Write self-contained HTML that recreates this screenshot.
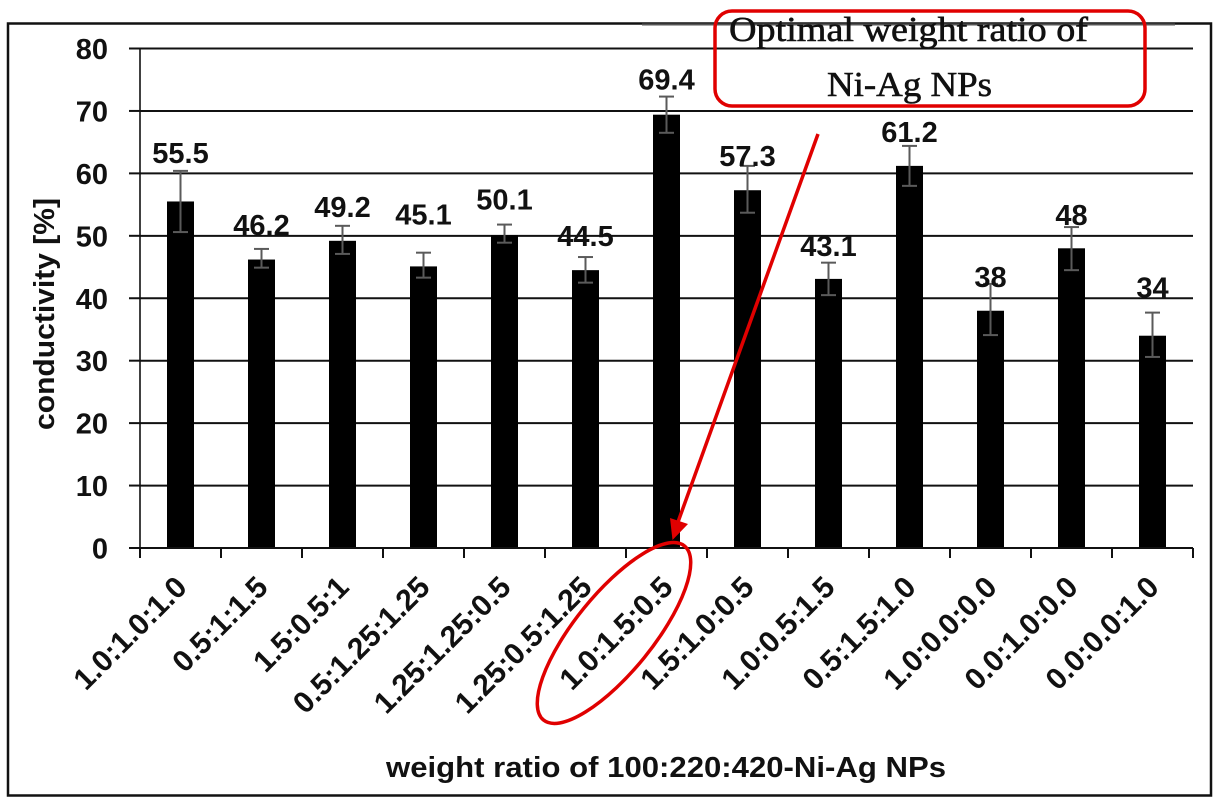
<!DOCTYPE html>
<html lang="en">
<head>
<meta charset="utf-8">
<title>Conductivity vs weight ratio of Ni-Ag NPs</title>
<style>
  html, body { margin: 0; padding: 0; background: #fff; }
  svg { display: block; }
  text { font-family: "Liberation Sans", sans-serif; fill: #111; }
  .serif { font-family: "Liberation Serif", serif; stroke: #111; stroke-width: .6px; }
</style>
</head>
<body>
<svg id="chart" width="1224" height="806" viewBox="0 0 1224 806" xmlns="http://www.w3.org/2000/svg">
  <rect x="0" y="0" width="1224" height="806" fill="#fff"/>
  <rect x="8" y="23.5" width="1203" height="772" fill="none" stroke="#111" stroke-width="2.5"/>
  <g id="grid"></g>
  <line x1="642" y1="24.5" x2="1175" y2="24.5" stroke="#555" stroke-width="2"/>
  <g id="bars"></g>
  <g id="errors"></g>
  <g id="axes"></g>
  <g id="labels"></g>
  <text transform="translate(54,314) rotate(-90)" text-anchor="middle" font-size="29" font-weight="700" textLength="232" lengthAdjust="spacingAndGlyphs">conductivity [%]</text>
  <text x="666" y="777" text-anchor="middle" font-size="29" font-weight="700" textLength="560" lengthAdjust="spacingAndGlyphs">weight ratio of 100:220:420-Ni-Ag NPs</text>
  <rect x="715" y="11" width="430" height="95" rx="17" ry="17" fill="none" stroke="#e00000" stroke-width="3.5"/>
  <text class="serif" x="729" y="41" font-size="35" textLength="359" lengthAdjust="spacingAndGlyphs">Optimal weight ratio of</text>
  <text class="serif" x="827" y="96" font-size="35" textLength="165" lengthAdjust="spacingAndGlyphs">Ni-Ag NPs</text>
  <line x1="818" y1="134" x2="678" y2="522" stroke="#e00000" stroke-width="3.5"/>
  <polygon points="672.5,540 670,518 688,524" fill="#e00000"/>
  <ellipse cx="614" cy="633" rx="112" ry="39" transform="rotate(-51 614 633)" fill="none" stroke="#e00000" stroke-width="3.5"/>
</svg>
<script>
const categories = ["1.0:1.0:1.0","0.5:1:1.5","1.5:0.5:1","0.5:1.25:1.25","1.25:1.25:0.5","1.25:0.5:1.25","1.0:1.5:0.5","1.5:1.0:0.5","1.0:0.5:1.5","0.5:1.5:1.0","1.0:0.0:0.0","0.0:1.0:0.0","0.0:0.0:1.0"];
const conductivity = [55.5,46.2,49.2,45.1,50.1,44.5,69.4,57.3,43.1,61.2,38,48,34];
const errorUp = [4.9,1.7,2.4,2.2,1.7,2.1,2.9,3.9,2.6,3.2,4.3,3.4,3.7];
const errorDown = [4.9,1.3,2.1,1.8,1.2,2.0,2.9,3.6,2.6,3.2,3.9,3.5,3.4];
const labelLift = [1.3,2.2,1.4,4.5,2.4,1.8,1.1,0,1.1,0.6,-0.5,0.3,2.4];
const yTicks = [0,10,20,30,40,50,60,70,80];

const NS = "http://www.w3.org/2000/svg";
const plotLeft = 140, plotRight = 1193, plotBottom = 548, plotTop = 48.5, yMax = 80;
const step = (plotRight - plotLeft) / categories.length;
const xScale = i => plotLeft + step * (i + 0.5);
const yScale = v => plotBottom - (v / yMax) * (plotBottom - plotTop);

function make(tag, attrs, parent, content) {
  const el = document.createElementNS(NS, tag);
  for (const k in attrs) el.setAttribute(k, attrs[k]);
  if (content !== undefined) el.textContent = content;
  document.getElementById(parent).appendChild(el);
  return el;
}

yTicks.forEach(t => {
  const y = yScale(t);
  if (t > 0) {
    const g = make("line", {x1: plotLeft, y1: y, x2: plotRight, y2: y, stroke: "#111", "stroke-width": 2}, "grid");
    
    
  }
  const tick = make("line", {x1: 129, y1: y, x2: plotLeft, y2: y, stroke: "#111", "stroke-width": 2}, "axes");
  
  
  const lab = make("text", {x: 108, y: y + 10.5, "text-anchor": "end", "font-size": 29, "font-weight": 700}, "axes", String(t));
  
  
});

const yAxis = make("line", {x1: plotLeft, y1: plotTop, x2: plotLeft, y2: plotBottom, stroke: "#111", "stroke-width": 1.6}, "axes");


const xAxis = make("line", {x1: plotLeft, y1: plotBottom, x2: plotRight, y2: plotBottom, stroke: "#111", "stroke-width": 2}, "axes");



for (let i = 0; i <= categories.length; i++) {
  const tx = plotLeft + step * i;
  const tick = make("line", {x1: tx, y1: plotBottom, x2: tx, y2: plotBottom + 10, stroke: "#111", "stroke-width": 2}, "axes");
  
  
}

categories.forEach((c, i) => {
  const cx = xScale(i), v = conductivity[i];
  const top = yScale(v);
  const bar = make("rect", {x: cx - 13.5, y: top, width: 27, height: plotBottom - top, fill: "#000"}, "bars");
  
  

  const hi = yScale(v + errorUp[i]), lo = yScale(v - errorDown[i]);
  const stem = make("line", {x1: cx, y1: hi, x2: cx, y2: lo, stroke: "#5a5a5a", "stroke-width": 2}, "errors");
  
  
  const capHi = make("line", {x1: cx - 7.5, y1: hi, x2: cx + 7.5, y2: hi, stroke: "#5a5a5a", "stroke-width": 2}, "errors");
  
  
  const capLo = make("line", {x1: cx - 7.5, y1: lo, x2: cx + 7.5, y2: lo, stroke: "#5a5a5a", "stroke-width": 2}, "errors");
  
  

  const value = make("text", {x: cx, y: yScale(v + errorUp[i] + labelLift[i]), "text-anchor": "middle", "font-size": 29, "font-weight": 700}, "labels", String(v));
  
  

  const catLabel = make("text", {transform: "translate(" + (cx + 8) + ",589) rotate(-45)", "text-anchor": "end", "font-size": 30, "font-weight": 700}, "axes", c);
  
  
});
</script>
</body>
</html>
